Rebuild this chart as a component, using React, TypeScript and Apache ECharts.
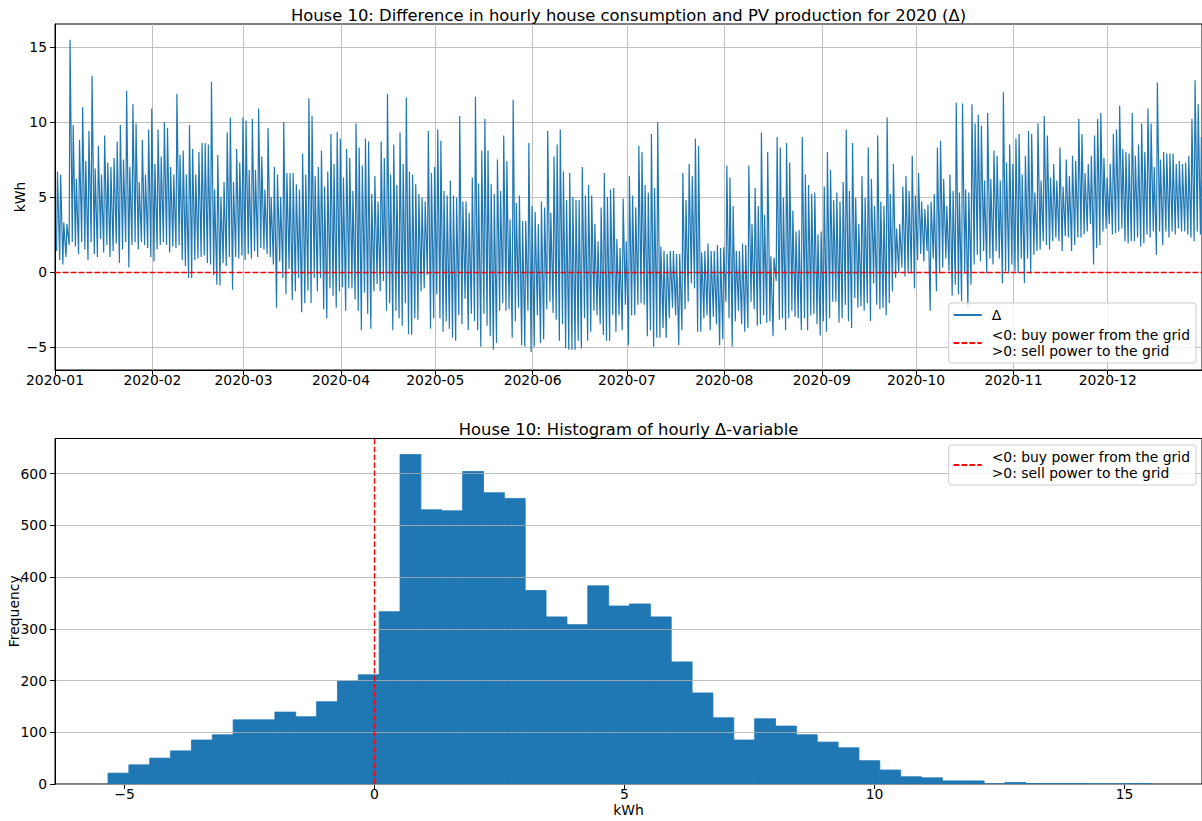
import React, { useEffect, useRef } from "react";
import * as echarts from "echarts";

const FONT = "DejaVu Sans";
const BLUE = "#1f77b4";

const topTitle = "House 10: Difference in hourly house consumption and PV production for 2020 (Δ)";
const histTitle = "House 10: Histogram of hourly Δ-variable";
const deltaName = "Δ";
const gridLineName = "<0: buy power from the grid\n>0: sell power to the grid";

const monthTickLabels = ["2020-01", "2020-02", "2020-03", "2020-04", "2020-05", "2020-06", "2020-07", "2020-08", "2020-09", "2020-10", "2020-11", "2020-12"];
const deltaTicks = [-5, 0, 5, 10, 15];
const kwhTicks = [-5, 0, 5, 10, 15];
const freqTicks = [0, 100, 200, 300, 400, 500, 600];

// daily evening peak / midday low of the hourly Δ (kWh)
const janHigh = [6.7, 6.5, 3.3, 3.2, 15.5, 9.8, 6.2, 8.8, 11.0, 7.4, 9.4, 13.1, 6.9, 8.4, 6.5, 9.1, 7.3, 7.0, 7.6, 8.7, 9.8, 7.5, 12.1, 7.0, 11.2, 9.9, 6.0, 8.8, 6.5, 9.5, 10.9];
const janLow = [1.4, 0.8, 0.5, 1.0, 1.8, 2.0, 1.7, 1.2, 2.0, 1.5, 0.8, 2.0, 1.2, 1.0, 2.2, 1.3, 1.8, 1.0, 1.4, 1.9, 0.6, 1.5, 2.0, 0.3, 1.8, 2.0, 1.5, 2.0, 1.8, 1.6, 1.0];
const febHigh = [7.2, 9.5, 7.7, 10.0, 9.6, 7.0, 6.5, 11.9, 7.8, 8.1, 6.5, 9.8, 8.2, 6.5, 8.0, 8.6, 8.6, 8.5, 12.7, 5.5, 7.8, 5.0, 6.0, 9.3, 10.3, 6.0, 8.2, 7.3, 10.3];
const febLow = [0.7, 1.5, 1.8, 2.0, 1.8, 1.3, 1.7, 1.6, 1.8, 0.8, 0.4, -0.4, -0.4, 0.8, 0.9, 1.0, 1.1, 0.6, 0.5, -0.2, -0.85, -0.9, 0.6, 0.4, 1.0, -1.2, 1.0, 0.9, 1.1];
const marHigh = [10.1, 6.8, 10.2, 6.8, 10.9, 7.7, 5.5, 9.6, 5.0, 7.0, 6.5, 5.0, 10.0, 6.6, 6.6, 6.6, 5.85, 5.5, 7.9, 6.5, 11.6, 10.4, 6.4, 7.0, 8.1, 5.7, 6.7, 9.2, 7.2, 9.35, 8.9];
const marLow = [0.8, 1.2, 0.9, 1.4, 1.0, 1.6, 1.5, 1.2, 1.0, 0.5, -2.4, 0.7, -0.4, -1.5, 0.2, -1.9, -1.3, -0.4, -2.7, -2.1, -1.25, -2.1, -0.4, -1.3, -0.4, -2.5, -3.1, -1.1, -1.6, -2.4, -1.3];
const aprHigh = [6.3, 8.2, 7.6, 5.4, 9.9, 8.3, 7.1, 8.9, 8.7, 5.2, 6.4, 4.7, 8.7, 7.6, 11.9, 6.5, 8.5, 5.8, 9.3, 7.2, 11.65, 6.7, 6.5, 5.85, 5.2, 4.95, 4.7, 9.4, 6.6, 7.0];
const aprLow = [-1.0, -2.6, -1.1, -1.1, -1.85, -2.6, -3.9, -1.4, -2.8, -3.8, -1.3, -0.8, -1.3, -0.6, -2.6, -2.1, -3.9, -2.6, -3.1, -3.6, -2.1, -4.15, -4.2, -3.1, -3.2, -1.3, -1.1, -0.2, -3.8, -3.1];
const mayHigh = [9.5, 8.75, 5.4, 5.1, 6.1, 5.1, 4.95, 10.4, 4.7, 4.7, 3.95, 6.3, 11.7, 5.9, 8.1, 10.2, 8.1, 5.85, 5.2, 7.5, 5.4, 9.1, 7.4, 3.5, 11.5, 4.6, 5.1, 3.4, 3.4, 8.6, 4.4];
const mayLow = [-1.5, -3.1, -4.0, -3.3, -3.8, -4.4, -4.6, -2.9, -3.5, -1.8, -3.9, -2.8, -3.3, -3.9, -5.0, -2.8, -3.6, -4.3, -5.2, -4.75, -2.6, -2.1, -2.6, -2.5, -4.4, -3.3, -2.4, -4.9, -5.0, -2.6, -5.35];
const junHigh = [4.0, 3.2, 4.7, 4.3, 9.4, 3.95, 7.7, 8.5, 9.5, 6.7, 4.8, 6.6, 5.0, 4.8, 4.8, 7.0, 5.1, 5.8, 5.1, 3.2, 2.05, 4.3, 6.6, 5.0, 5.5, 5.6, 2.2, 1.6, 4.9, 2.05];
const junLow = [-5.0, -2.9, -4.75, -4.5, -2.5, -2.0, -2.75, -3.2, -4.6, -3.5, -5.1, -5.2, -5.2, -5.2, -4.6, -5.1, -3.1, -4.6, -4.0, -2.6, -2.9, -3.5, -4.2, -4.6, -4.6, -2.9, -4.0, -2.9, -3.9, -2.2];
const julHigh = [6.4, 5.1, 4.3, 8.4, 8.0, 5.8, 5.3, 9.2, 5.6, 10.0, 1.7, 1.4, 1.2, 1.4, 1.4, 1.2, 1.2, 6.6, 4.8, 7.2, 6.4, 8.9, 8.4, 1.3, 1.4, 1.9, 1.4, 1.4, 1.8, 1.6, 1.65];
const julLow = [-4.9, -2.9, -2.9, -2.2, -2.1, -2.2, -4.3, -3.9, -5.0, -4.4, -4.4, -3.75, -4.4, -3.1, -2.4, -2.9, -4.9, -3.9, -2.5, -2.0, -0.75, -1.1, -4.0, -4.0, -3.1, -2.9, -3.9, -3.0, -3.5, -4.9, -4.5];
const augHigh = [7.1, 6.3, 4.4, 1.4, 1.4, 1.9, 1.8, 7.1, 3.2, 5.6, 4.4, 9.3, 3.8, 8.0, 1.05, 0.95, 9.0, 8.3, 4.95, 8.6, 7.3, 4.1, 2.7, 2.8, 9.0, 6.5, 5.8, 5.2, 5.3, 2.5, 2.7];
const augLow = [-2.0, -3.1, -5.0, -3.3, -2.6, -3.5, -4.0, -3.75, -2.0, -2.5, -3.6, -3.5, -2.9, -3.4, -3.3, -4.3, -0.6, -3.2, -3.1, -3.9, -3.1, -2.6, -3.0, -3.1, -3.9, -3.1, -3.9, -2.9, -2.8, -3.5, -4.25];
const sepHigh = [5.7, 8.0, 6.8, 4.8, 5.3, 4.7, 6.0, 9.5, 5.4, 8.6, 4.95, 3.2, 6.4, 4.95, 8.3, 6.2, 4.4, 9.1, 4.7, 4.4, 10.3, 5.2, 7.2, 2.9, 3.2, 5.7, 6.4, 5.4, 7.75, 5.1];
const sepLow = [-3.3, -4.0, -3.1, -2.0, -2.0, -3.4, -3.1, -2.2, -3.3, -3.75, -1.75, -2.4, -2.3, -2.6, -2.1, -3.3, -0.75, -2.2, -2.5, -2.4, -2.9, -2.1, -1.3, -0.4, -0.1, 0.3, -0.3, -0.1, -0.1, -1.1];
const octHigh = [6.6, 4.7, 4.2, 4.5, 4.7, 5.2, 8.3, 8.75, 6.2, 4.4, 6.5, 5.4, 11.3, 5.3, 11.25, 5.5, 5.3, 11.2, 9.9, 10.5, 9.75, 6.1, 10.6, 6.2, 8.1, 7.75, 6.1, 12.0, 7.3, 8.5, 7.2];
const octLow = [0.8, 1.2, 0.7, 1.4, -2.6, 0.9, -1.3, -0.1, 0.3, 0.9, 0.05, -1.6, -0.85, -1.5, -1.96, -0.1, -2.4, -0.85, 0.5, 1.15, 0.7, 1.4, -0.1, 0.9, 0.5, 1.4, 0.9, -0.75, 0.05, -0.1, 0.5];
const novHigh = [8.9, 9.2, 6.5, 7.75, 9.4, 9.2, 5.3, 9.9, 6.1, 10.4, 9.1, 6.3, 7.2, 6.1, 8.3, 5.7, 7.5, 6.4, 7.75, 7.4, 10.2, 9.2, 6.6, 7.2, 7.75, 9.1, 10.2, 10.6, 7.6, 6.3];
const novLow = [0.05, -0.1, 0.9, -0.75, 0.9, -0.1, 1.15, 1.4, 1.5, 2.05, 1.8, 1.5, 2.05, 2.3, 2.05, 1.4, 2.4, 2.3, 1.4, 1.8, 2.3, 2.3, 2.5, 2.7, 3.2, 0.5, 1.6, 1.8, 2.7, 2.9];
const decHigh = [7.2, 9.2, 9.5, 11.1, 8.2, 8.0, 7.9, 10.6, 7.75, 8.5, 9.9, 8.0, 10.9, 9.9, 7.0, 12.65, 7.5, 8.0, 7.9, 7.9, 7.9, 7.2, 7.4, 7.2, 7.3, 7.75, 10.2, 12.8, 11.2, 9.0];
const decLow = [3.2, 2.5, 2.6, 2.7, 2.9, 2.05, 1.9, 2.05, 2.05, 2.3, 1.7, 1.9, 2.5, 2.3, 2.7, 1.15, 2.7, 1.8, 2.7, 2.3, 2.7, 2.5, 2.9, 2.7, 2.7, 2.5, 2.3, 2.05, 2.7, 2.5];

// histogram of hourly Δ: 50 equal bins between the data min and max
const histMin = -5.33;
const histMax = 15.53;
const histCounts = [21, 37, 50, 64, 85, 95, 124, 124, 139, 130, 159, 199, 211, 333, 637, 530, 528, 604, 563, 552, 374, 323, 308, 383, 344, 348, 323, 236, 176, 128, 85, 126, 112, 95, 81, 70, 45, 27, 14, 12, 6, 6, 0, 3, 1, 1, 1, 0, 0, 1];

const monthHighs = [janHigh, febHigh, marHigh, aprHigh, mayHigh, junHigh, julHigh, augHigh, sepHigh, octHigh, novHigh, decHigh];
const monthLows = [janLow, febLow, marLow, aprLow, mayLow, junLow, julLow, augLow, sepLow, octLow, novLow, decLow];

function buildDelta(): [number, number][] {
  const out: [number, number][] = [];
  monthHighs.forEach((highs, m) => {
    highs.forEach((h, i) => {
      out.push([new Date(2020, m, i + 1, 12).getTime(), monthLows[m][i]]);
      out.push([new Date(2020, m, i + 1, 19).getTime(), h]);
    });
  });
  return out;
}

function buildHist(): number[][] {
  const w = (histMax - histMin) / histCounts.length;
  return histCounts.map((c, i) => [histMin + i * w, histMin + (i + 1) * w, c]);
}

const monthStarts = monthTickLabels.map((l) => new Date(Number(l.slice(0, 4)), Number(l.slice(5, 7)) - 1, 1).getTime());
const minusFmt = (v: number) => (v < 0 ? "\u2212" + Math.abs(v) : String(v));

export default function App() {
  const ref = useRef<HTMLDivElement>(null);
  useEffect(() => {
    if (!ref.current) return;
    const chart = echarts.init(ref.current, undefined, { renderer: "svg" });
    const tickStyle = { show: true, length: 5, inside: false, lineStyle: { color: "#000", width: 1 } };
    const labelBase = { color: "#000", fontFamily: FONT, fontSize: 13.9 };
    const gridLine = { show: true, lineStyle: { color: "#b0b0b0", width: 0.8 } };
    const redDash = { color: "#ff0000", type: [5.5, 2.4] as any, width: 1.4 };
    const legendBase = {
      orient: "vertical" as const,
      right: 6,
      padding: [4, 6, 4, 4],
      itemGap: 4,
      itemWidth: 28,
      itemHeight: 14,
      selectedMode: false,
      backgroundColor: "rgba(255,255,255,0.8)",
      borderColor: "#cccccc",
      borderWidth: 1,
      borderRadius: 3,
      itemStyle: { opacity: 0 },
      textStyle: { color: "#000", fontFamily: FONT, fontSize: 13.9, lineHeight: 16, padding: [0, 0, 0, 5] },
    };
    const gridBase = { show: true, borderColor: "#000", borderWidth: 1, containLabel: false, outerBoundsMode: "none" };
    const option: any = {
      animation: false,
      backgroundColor: "#fff",
      textStyle: { fontFamily: FONT },
      graphic: [
        { type: "text", x: 628.5, y: 15, style: { text: topTitle, textAlign: "center", textVerticalAlign: "middle", fontFamily: FONT, fontSize: 16.4, fill: "#000" } },
        { type: "text", x: 628.5, y: 429.5, style: { text: histTitle, textAlign: "center", textVerticalAlign: "middle", fontFamily: FONT, fontSize: 16.4, fill: "#000" } },
      ],
      grid: [
        { ...gridBase, left: 55, top: 24, width: 1147, height: 346 },
        { ...gridBase, left: 55, top: 438.5, width: 1147, height: 345.5 },
      ],
      legend: [
        { ...legendBase, top: 303, data: [{ name: deltaName }, { name: gridLineName }] },
        { ...legendBase, top: 445, data: [{ name: gridLineName }] },
      ],
      xAxis: [
        {
          type: "value",
          gridIndex: 0,
          min: monthStarts[0],
          max: new Date(2020, 11, 31).getTime(),
          axisLine: { show: true, onZero: false, lineStyle: { color: "#000", width: 1 } },
          axisTick: { ...tickStyle, customValues: monthStarts },
          axisLabel: {
            ...labelBase,
            margin: 3,
            customValues: monthStarts,
            formatter: (v: number) => {
              const d = new Date(v);
              return d.getFullYear() + "-" + String(d.getMonth() + 1).padStart(2, "0");
            },
            hideOverlap: false,
          },
          splitLine: gridLine,
        },
        {
          type: "value",
          gridIndex: 1,
          min: -6.39,
          max: 16.55,
          name: "kWh",
          nameLocation: "middle",
          nameGap: 19,
          nameMoveOverlap: false,
          nameTextStyle: { ...labelBase },
          axisLine: { show: true, onZero: false, lineStyle: { color: "#000", width: 1 } },
          axisTick: { ...tickStyle, customValues: kwhTicks },
          axisLabel: { ...labelBase, margin: 3, customValues: kwhTicks, formatter: minusFmt },
          splitLine: { show: false },
        },
      ],
      yAxis: [
        {
          type: "value",
          gridIndex: 0,
          min: -6.55,
          max: 16.55,
          name: "kWh",
          nameLocation: "middle",
          nameGap: 28,
          nameRotate: 90,
          nameMoveOverlap: false,
          nameTextStyle: { ...labelBase },
          axisLine: { show: true, onZero: false, lineStyle: { color: "#000", width: 1 } },
          axisTick: { ...tickStyle, customValues: deltaTicks },
          axisLabel: { ...labelBase, margin: 8, customValues: deltaTicks, formatter: minusFmt },
          splitLine: gridLine,
        },
        {
          type: "value",
          gridIndex: 1,
          min: 0,
          max: 667.8,
          z: 3,
          name: "Frequency",
          nameLocation: "middle",
          nameGap: 34,
          nameRotate: 90,
          nameMoveOverlap: false,
          nameTextStyle: { ...labelBase },
          axisLine: { show: true, onZero: false, lineStyle: { color: "#000", width: 1 } },
          axisTick: { ...tickStyle, customValues: freqTicks },
          axisLabel: { ...labelBase, margin: 8, customValues: freqTicks },
          splitLine: gridLine,
        },
      ],
      series: [
        {
          name: deltaName,
          type: "line",
          xAxisIndex: 0,
          yAxisIndex: 0,
          data: buildDelta(),
          symbol: "none",
          showSymbol: false,
          color: BLUE,
          lineStyle: { color: BLUE, width: 1.2 },
          z: 2,
        },
        {
          name: gridLineName,
          type: "line",
          xAxisIndex: 0,
          yAxisIndex: 0,
          data: [],
          symbol: "none",
          color: "#ff0000",
          lineStyle: redDash,
          z: 5,
          markLine: { symbol: "none", silent: true, label: { show: false }, lineStyle: redDash, data: [{ yAxis: 0 }] },
        },
        {
          name: "hist",
          type: "custom",
          xAxisIndex: 1,
          yAxisIndex: 1,
          data: buildHist(),
          encode: { x: [0, 1], y: 2 },
          z: 2,
          renderItem: (params: any, api: any) => {
            const p0 = api.coord([api.value(0), api.value(2)]);
            const p1 = api.coord([api.value(1), 0]);
            return {
              type: "rect",
              shape: { x: p0[0], y: p0[1], width: p1[0] - p0[0], height: p1[1] - p0[1] },
              style: { fill: BLUE, stroke: BLUE, lineWidth: 0.8 },
            };
          },
        },
        {
          name: gridLineName,
          type: "line",
          xAxisIndex: 1,
          yAxisIndex: 1,
          data: [],
          symbol: "none",
          color: "#ff0000",
          lineStyle: redDash,
          z: 5,
          markLine: { symbol: "none", silent: true, label: { show: false }, lineStyle: redDash, data: [{ xAxis: 0 }] },
        },
      ],
    };
    chart.setOption(option);
    return () => chart.dispose();
  }, []);
  return <div ref={ref} style={{ position: "fixed", left: 0, top: 0, width: 1202, height: 821 }} />;
}
